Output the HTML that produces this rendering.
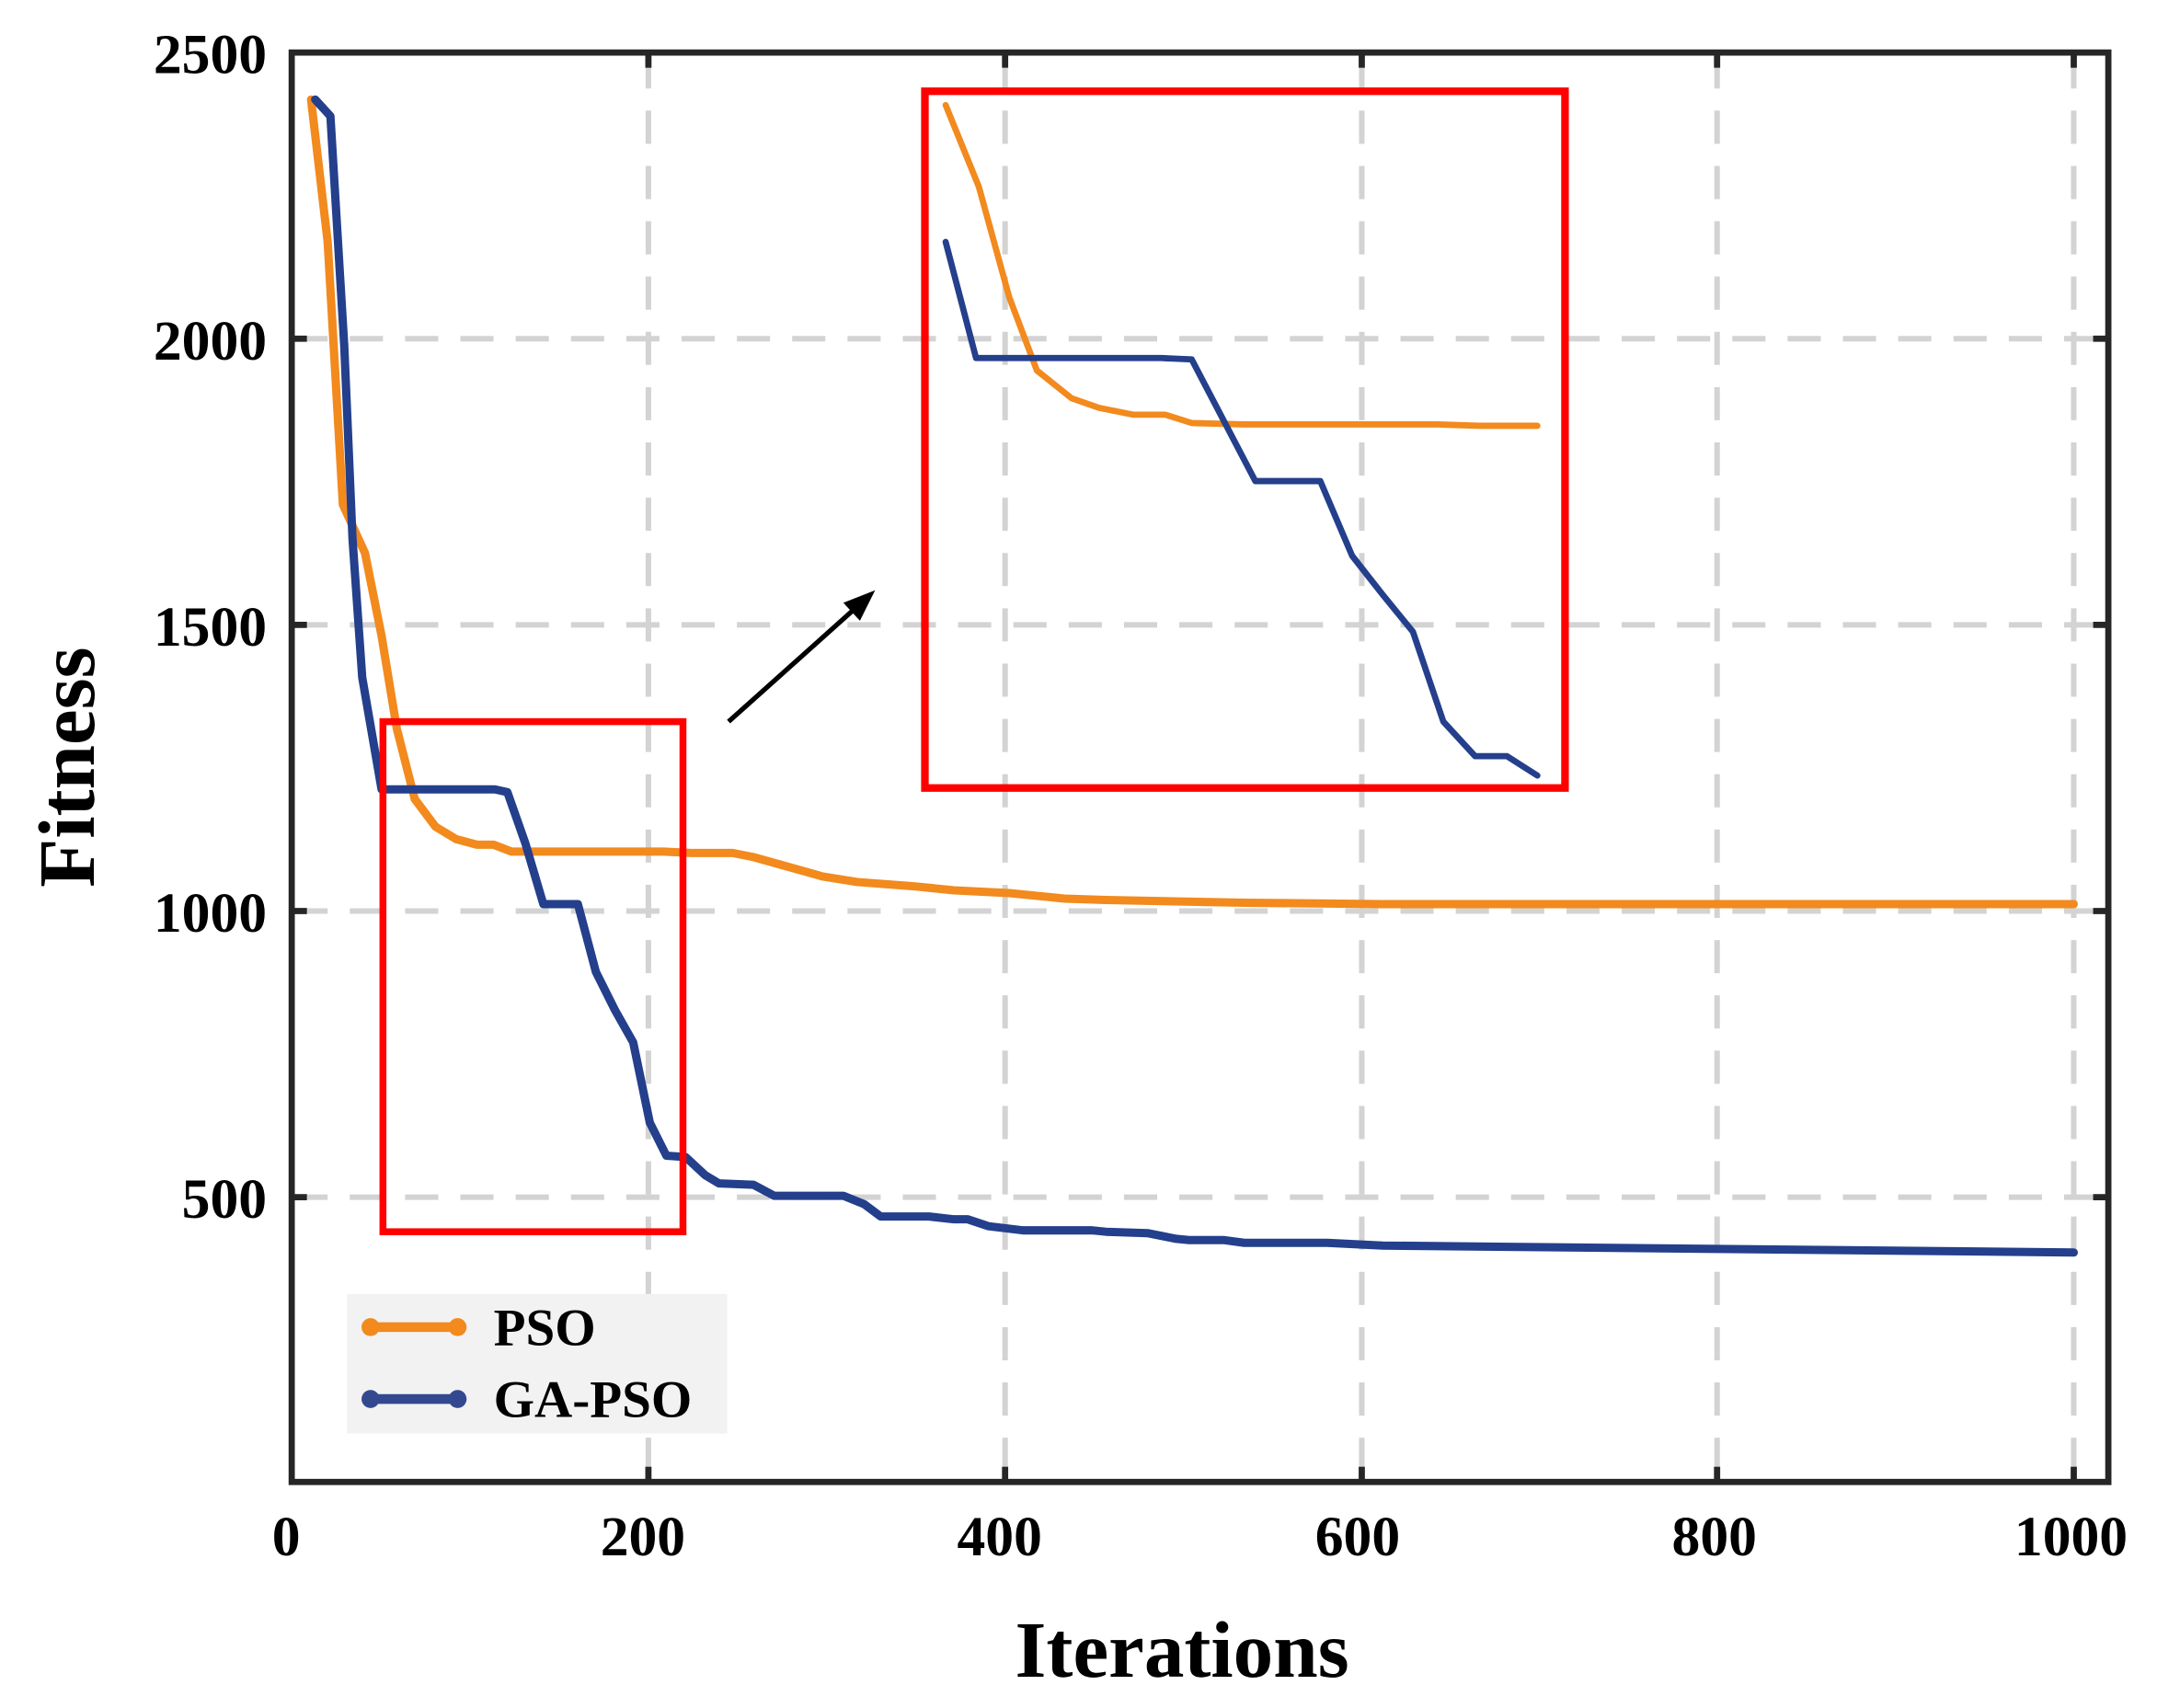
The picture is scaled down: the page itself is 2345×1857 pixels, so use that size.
<!DOCTYPE html>
<html><head><meta charset="utf-8"><style>html,body{margin:0;padding:0;background:#fff}svg{display:block}</style></head>
<body>
<svg width="2345" height="1857" viewBox="0 0 1560.2 1235.5" xmlns="http://www.w3.org/2000/svg" font-family="Liberation Serif, serif" font-weight="bold">
<rect width="1560.2" height="1235.5" fill="#fff"/>
<g stroke="#d3d3d3" stroke-width="4" stroke-dasharray="24,16">
<line x1="469" y1="40" x2="469" y2="1070"/><line x1="727" y1="40" x2="727" y2="1070"/><line x1="985" y1="40" x2="985" y2="1070"/><line x1="1242" y1="40" x2="1242" y2="1070"/><line x1="1500" y1="40" x2="1500" y2="1070"/>
<line x1="213" y1="245" x2="1523" y2="245"/><line x1="213" y1="452" x2="1523" y2="452"/><line x1="213" y1="659" x2="1523" y2="659"/><line x1="213" y1="866" x2="1523" y2="866"/>
</g>
<g stroke="#262626" stroke-width="4.5">
<line x1="469" y1="1072" x2="469" y2="1061"/><line x1="727" y1="1072" x2="727" y2="1061"/><line x1="985" y1="1072" x2="985" y2="1061"/><line x1="1242" y1="1072" x2="1242" y2="1061"/><line x1="1500" y1="1072" x2="1500" y2="1061"/>
<line x1="469" y1="38" x2="469" y2="49"/><line x1="727" y1="38" x2="727" y2="49"/><line x1="985" y1="38" x2="985" y2="49"/><line x1="1242" y1="38" x2="1242" y2="49"/><line x1="1500" y1="38" x2="1500" y2="49"/>
<line x1="211" y1="245" x2="222" y2="245"/><line x1="211" y1="452" x2="222" y2="452"/><line x1="211" y1="659" x2="222" y2="659"/><line x1="211" y1="866" x2="222" y2="866"/>
<line x1="1525" y1="245" x2="1514" y2="245"/><line x1="1525" y1="452" x2="1514" y2="452"/><line x1="1525" y1="659" x2="1514" y2="659"/><line x1="1525" y1="866" x2="1514" y2="866"/>
</g>
<rect x="211" y="38" width="1314" height="1034" fill="none" stroke="#262626" stroke-width="4.5"/>
<polyline fill="none" stroke="#f28a1e" stroke-width="6" stroke-linejoin="round" stroke-linecap="round" points="225,72 237,175 248,365 264,400 276,460 287,527 300,578 315,598 330,607 345,611 357,611 370,616 400,616 480,616 500,617 530,617 545,620 570,627 595,634 620,638 660,641 690,644 730,646 770,650 800,651 900,653 1000,654 1500,654"/>
<polyline fill="none" stroke="#243f8b" stroke-width="6" stroke-linejoin="round" stroke-linecap="round" points="228,72 239,84 249,250 255,390 262,490 276,571 358,571 367,573 380,610 393,654 418,654 431,703 445,731 458,754 470,812 482,836 496,837 510,850 520,856 545,857 560,865 610,865 625,871 637,880 672,880 690,882 700,882 715,887 740,890 790,890 800,891 830,892 850,896 860,897 885,897 900,899 960,899 1000,901 1100,902 1500,906"/>
<rect x="277" y="522" width="217" height="369" fill="none" stroke="#ff0000" stroke-width="5"/>
<rect x="669" y="66" width="463" height="504" fill="none" stroke="#ff0000" stroke-width="5.5"/>
<polyline fill="none" stroke="#f28a1e" stroke-width="4.5" stroke-linejoin="round" stroke-linecap="round" points="684,76 708,135 730,215 750,268 775,288 795,295 820,300 843,300 862,306 900,307 1040,307 1070,308 1112,308"/>
<polyline fill="none" stroke="#243f8b" stroke-width="4.5" stroke-linejoin="round" stroke-linecap="round" points="684,175 706,259 840,259 862,260 908,348 955,348 978,402 1000,430 1022,457 1044,522 1067,547 1090,547 1112,561"/>
<line x1="527" y1="522" x2="622" y2="437" stroke="#000" stroke-width="3.5"/>
<polygon points="633,427 610,436 622,449" fill="#000"/>
<rect x="251" y="936" width="275" height="101" fill="#f2f2f2"/>
<line x1="268" y1="960" x2="331" y2="960" stroke="#f28a1e" stroke-width="7"/>
<circle cx="268" cy="960" r="6.5" fill="#f28a1e"/><circle cx="331" cy="960" r="6.5" fill="#f28a1e"/>
<line x1="268" y1="1012" x2="331" y2="1012" stroke="#33498f" stroke-width="7"/>
<circle cx="268" cy="1012" r="6.5" fill="#33498f"/><circle cx="331" cy="1012" r="6.5" fill="#33498f"/>
<text x="357" y="973" font-size="38">PSO</text>
<text x="357" y="1025" font-size="38">GA-PSO</text>
<g font-size="41" text-anchor="end">
<text x="193" y="53">2500</text><text x="193" y="260">2000</text><text x="193" y="467">1500</text><text x="193" y="674">1000</text><text x="193" y="881">500</text>
</g>
<g font-size="41" text-anchor="middle">
<text x="207" y="1125">0</text><text x="465" y="1125">200</text><text x="723" y="1125">400</text><text x="982" y="1125">600</text><text x="1240" y="1125">800</text><text x="1498" y="1125">1000</text>
</g>
<text x="855" y="1213" font-size="58" text-anchor="middle">Iterations</text>
<text transform="translate(68,555) rotate(-90)" font-size="58" text-anchor="middle">Fitness</text>
</svg>
</body></html>
